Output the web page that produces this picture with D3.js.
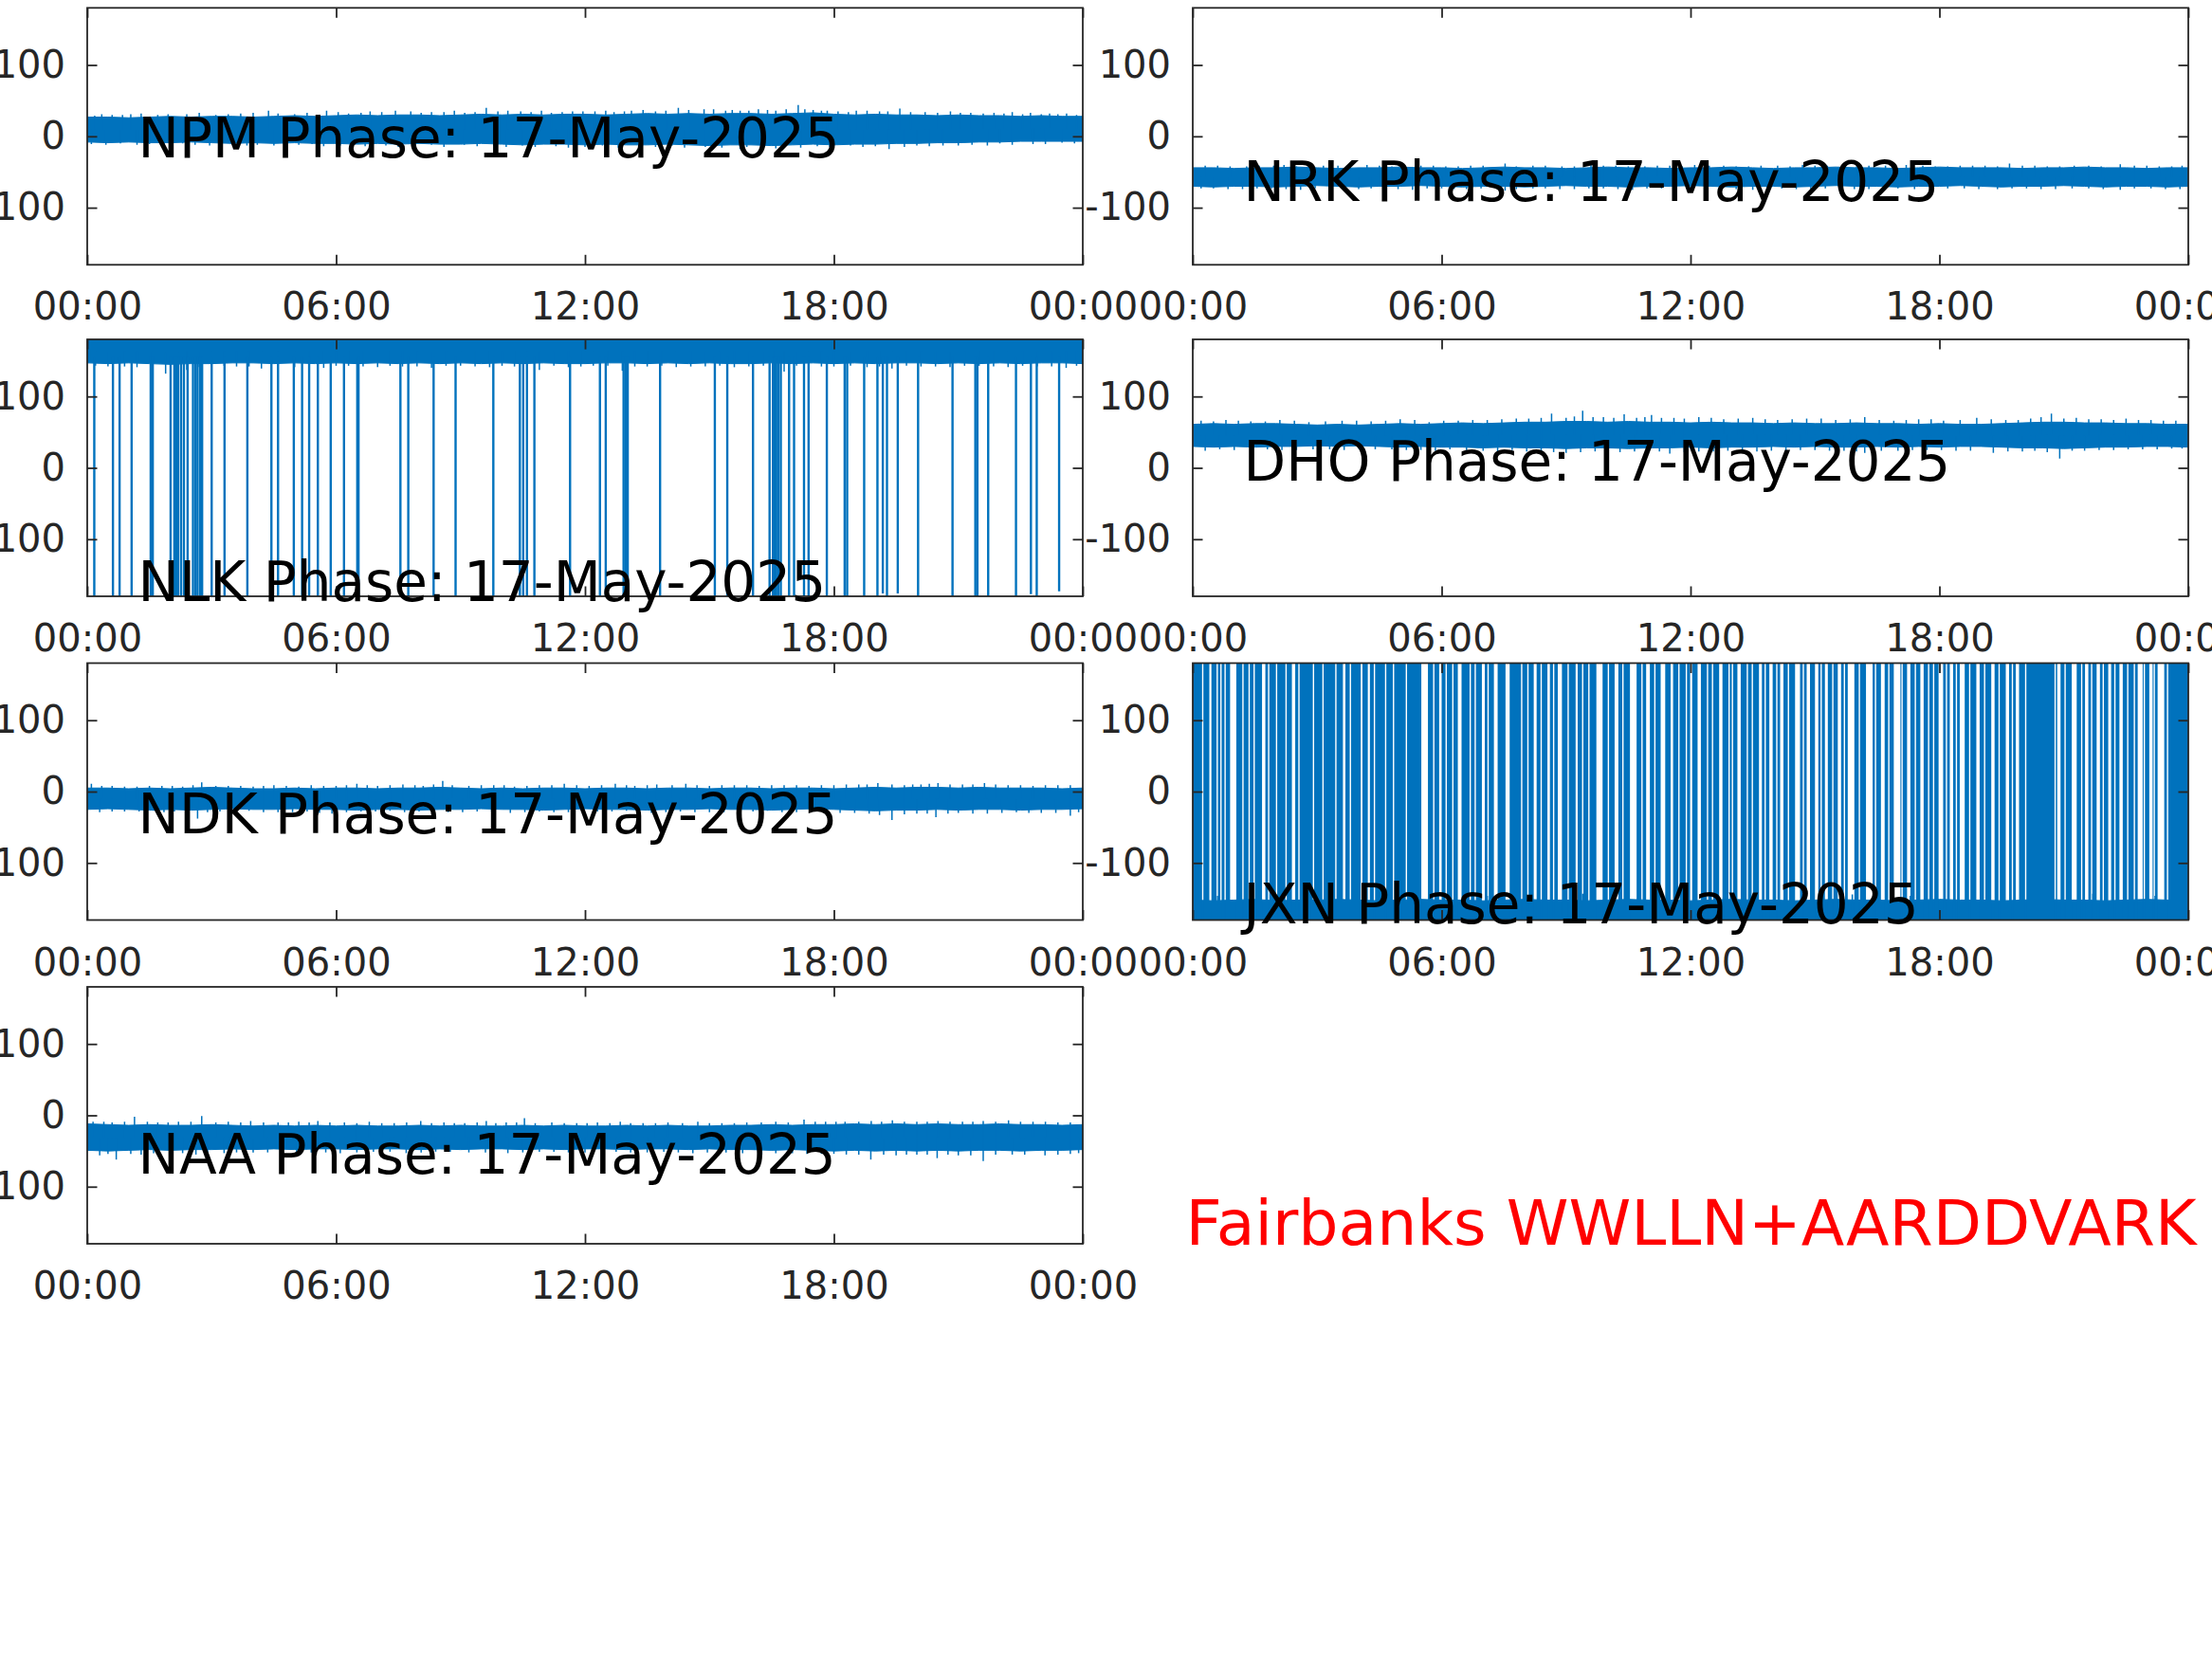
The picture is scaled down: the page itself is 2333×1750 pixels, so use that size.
<!DOCTYPE html>
<html><head><meta charset="utf-8">
<script src="https://cdn.jsdelivr.net/npm/d3@7"></script>
<style>body{margin:0;background:#fff}svg{display:block}</style>
</head><body><svg id="c" width="2333" height="1750"></svg>
<script>
// ---------------- DATA ----------------
const dateLabel = "17-May-2025";
const xTickHours = [0, 6, 12, 18, 24];
const xTickLabels = ["00:00", "06:00", "12:00", "18:00", "00:00"];
const yTickValues = [-100, 0, 100];
const stations = ["NPM", "NRK", "NLK", "DHO", "NDK", "JXN", "NAA"];
const footerText = "Fairbanks WWLLN+AARDDVARK";

// dense core of the phase trace (deg), every 30 min from 00:00 to 24:00 (49 samples)
const npmHi = [27,27,26,27,28,27,28,28,27,28,29,28,29,30,29,30,30,29,30,31,30,31,30,31,31,30,31,32,31,32,31,32,32,31,32,33,31,30,31,30,30,29,30,29,29,28,29,28,28];
const npmLo = [-8,-9,-8,-9,-9,-8,-9,-10,-9,-10,-9,-10,-10,-11,-10,-11,-10,-11,-11,-10,-11,-12,-11,-11,-12,-11,-12,-12,-11,-12,-13,-12,-12,-13,-12,-11,-12,-11,-11,-10,-10,-9,-9,-8,-8,-7,-7,-7,-7];
const nrkHi = [-44,-44,-45,-44,-44,-43,-44,-45,-44,-44,-43,-44,-44,-45,-44,-43,-44,-44,-45,-44,-43,-44,-44,-45,-44,-44,-43,-44,-45,-44,-44,-43,-44,-44,-45,-44,-43,-44,-44,-44,-45,-44,-44,-43,-44,-44,-45,-44,-44];
const nrkLo = [-70,-71,-70,-70,-71,-70,-69,-70,-71,-70,-70,-69,-70,-71,-70,-70,-71,-70,-69,-70,-70,-71,-70,-70,-69,-70,-71,-70,-70,-71,-70,-69,-70,-70,-71,-70,-70,-69,-70,-71,-70,-70,-69,-70,-71,-70,-70,-71,-70];
const nlkHi = [180,180,180,180,180,180,180,180,180,180,180,180,180,180,180,180,180,180,180,180,180,180,180,180,180,180,180,180,180,180,180,180,180,180,180,180,180,180,180,180,180,180,180,180,180,180,180,180,180];
const nlkLo = [147,146,147,146,145,146,146,147,147,146,147,146,147,146,147,146,147,146,147,146,147,146,147,146,146,147,147,146,147,146,147,146,146,147,146,147,146,147,146,147,147,146,147,146,147,146,147,147,146];
const dhoHi = [61,62,61,62,62,61,60,61,60,61,62,61,62,63,62,63,64,64,65,65,64,65,64,64,63,64,63,63,62,63,62,62,63,62,62,61,62,61,61,62,63,64,64,63,63,62,62,61,61];
const dhoLo = [30,29,30,29,30,30,31,30,31,30,29,30,29,29,28,29,28,28,27,28,28,27,28,28,29,28,29,29,30,29,30,29,29,30,29,30,29,30,30,29,28,28,27,28,29,29,30,30,29];
const ndkHi = [5,5,4,5,4,5,6,5,4,4,5,4,5,5,4,5,5,6,5,4,5,4,5,5,4,5,5,4,5,5,4,5,5,4,5,5,4,5,6,5,6,6,5,6,5,5,5,4,5];
const ndkLo = [-25,-24,-25,-26,-25,-26,-25,-24,-25,-25,-24,-25,-25,-26,-25,-25,-26,-25,-25,-24,-25,-25,-26,-25,-24,-25,-25,-26,-25,-25,-24,-25,-25,-26,-25,-24,-25,-26,-27,-26,-26,-25,-26,-25,-25,-26,-25,-25,-24];
const jxnHi = [-152,-153,-152,-151,-153,-152,-152,-151,-152,-153,-152,-151,-152,-152,-153,-152,-151,-152,-152,-153,-152,-151,-152,-152,-153,-152,-151,-152,-152,-153,-152,-151,-152,-152,-153,-152,-151,-152,-152,-153,-152,-151,-152,-152,-153,-152,-151,-152,-152];
const jxnLo = [-180,-180,-180,-180,-180,-180,-180,-180,-180,-180,-180,-180,-180,-180,-180,-180,-180,-180,-180,-180,-180,-180,-180,-180,-180,-180,-180,-180,-180,-180,-180,-180,-180,-180,-180,-180,-180,-180,-180,-180,-180,-180,-180,-180,-180,-180,-180,-180,-180];
const naaHi = [-12,-13,-14,-13,-14,-14,-13,-14,-15,-14,-15,-14,-15,-14,-15,-15,-14,-15,-14,-15,-15,-14,-15,-14,-15,-15,-14,-15,-14,-15,-15,-14,-14,-13,-14,-13,-13,-12,-13,-12,-13,-12,-13,-13,-12,-13,-13,-14,-13];
const naaLo = [-49,-50,-49,-48,-49,-48,-48,-47,-48,-47,-48,-47,-47,-48,-47,-47,-48,-47,-48,-47,-47,-48,-47,-48,-47,-47,-48,-47,-47,-48,-47,-48,-48,-49,-48,-49,-50,-49,-50,-49,-50,-49,-50,-49,-49,-50,-49,-49,-48];

// isolated excursions beyond the dense core: [hour, phase]
const npmSpikes = [[0.18,29],[0.6,30],[1.05,31],[1.7,30],[2.4,31],[3.1,30],[3.7,32],[4.37,36],[5.0,31],[5.77,36],[6.3,32],[6.82,35],[7.43,36],[8.05,33],[8.6,34],[9.1,33],[9.62,40],[10.14,36],[10.7,34],[11.19,33],[11.7,35],[12.24,35],[12.7,34],[13.12,36],[13.7,35],[14.25,40],[14.87,38],[15.39,36],[15.74,36],[16.18,38],[16.6,36],[17.14,44],[17.5,37],[17.84,36],[18.54,36],[19.1,35],[19.59,39],[20.2,34],[20.81,35],[21.3,33],[21.86,33],[22.3,34],[22.74,33],[23.2,32],[23.61,32],
  [0.35,31],[0.85,30],[1.3,32],[1.95,31],[2.7,33],[3.4,31],[4.0,33],[4.6,32],[5.3,33],[6.05,34],[6.6,33],[7.1,34],[7.8,35],[8.3,34],[8.85,36],[9.35,34],[9.9,35],[10.45,35],[10.95,36],[11.45,34],[11.95,35],[12.5,36],[12.95,35],[13.4,37],[13.95,36],[14.5,37],[15.1,38],[15.55,37],[15.95,36],[16.4,37],[16.85,38],[17.3,38],[17.7,36],[18.1,35],[18.35,34],[18.8,36],[19.3,35],[19.85,34],[20.5,33],[21.05,33],[21.6,32],[22.1,32],[22.55,31],[23.0,31],[23.4,31],[23.85,30],
  [0.1,-11],[0.8,-10],[1.5,-11],[2.3,-10],[3.2,-11],[4.1,-12],[4.8,-10],[5.42,-11],[6.4,-12],[7.2,-13],[8.3,-12],[9.09,-12],[9.8,-13],[10.49,-13],[11.3,-14],[12.42,-13],[13.3,-14],[14.1,-13],[14.9,-15],[15.74,-18],[16.3,-14],[16.79,-16],[17.6,-14],[18.4,-13],[19.33,-18],[20.0,-13],[20.63,-13],[21.33,-12],[22.0,-10],[22.8,-11],[23.5,-9],
  [0.45,-12],[1.2,-12],[1.85,-13],[2.6,-12],[2.95,-13],[3.5,-12],[3.85,-13],[4.5,-13],[5.1,-12],[5.7,-14],[6.1,-13],[6.7,-14],[7.5,-15],[7.9,-14],[8.6,-15],[9.4,-14],[10.1,-15],[10.8,-15],[11.6,-16],[12.0,-15],[12.8,-16],[13.7,-15],[14.4,-16],[15.3,-16],[15.9,-15],[16.6,-17],[17.2,-16],[17.9,-15],[18.7,-15],[19.0,-14],[19.7,-15],[20.3,-14],[21.0,-13],[21.7,-13],[22.3,-12],[23.1,-11],[23.8,-10]];
const nrkSpikes = [[0.3,-41],[0.9,-42],[1.6,-41],[2.2,-40],[2.9,-42],[3.5,-41],[4.2,-40],[4.8,-42],[5.5,-41],[6.1,-42],[6.7,-41],[7.53,-38],[8.2,-41],[8.9,-42],[9.6,-40],[10.2,-41],[10.9,-42],[11.5,-41],[12.1,-40],[12.8,-41],[13.4,-42],[14.1,-41],[14.7,-40],[15.3,-41],[16.0,-42],[16.7,-41],[17.2,-40],[17.9,-42],[18.5,-41],[19.1,-41],[19.69,-38],[20.3,-41],[20.9,-42],[21.6,-41],[22.36,-39],[23.0,-41],[23.6,-42],
  [0.6,-41],[1.3,-42],[1.95,-41],[2.5,-42],[3.15,-41],[3.8,-42],[4.5,-41],[5.1,-42],[5.8,-41],[6.4,-42],[7.0,-41],[7.8,-42],[8.5,-41],[9.2,-42],[9.9,-41],[10.5,-42],[11.2,-41],[11.8,-42],[12.45,-41],[13.1,-42],[13.7,-41],[14.4,-42],[15.0,-41],[15.7,-42],[16.3,-41],[16.95,-42],[17.6,-41],[18.2,-42],[18.8,-41],[19.4,-42],[20.0,-41],[20.6,-42],[21.25,-41],[21.9,-42],[22.7,-41],[23.3,-42],[23.85,-41],
  [0.5,-73],[1.2,-74],[1.9,-73],[2.6,-75],[3.3,-73],[4.0,-74],[4.6,-73],[5.3,-75],[6.0,-73],[6.6,-74],[7.53,-76],[8.5,-73],[9.2,-74],[9.9,-73],[10.6,-75],[11.3,-73],[12.0,-74],[12.7,-73],[13.5,-75],[14.2,-73],[14.9,-74],[15.6,-73],[16.3,-74],[17.0,-73],[17.8,-75],[18.6,-73],[19.4,-74],[20.1,-73],[20.8,-74],[21.6,-73],[22.36,-75],[23.1,-73],[23.8,-74],
  [0.2,-73],[0.85,-74],[1.55,-73],[2.25,-74],[2.95,-73],[3.65,-74],[4.3,-73],[4.95,-74],[5.65,-73],[6.3,-74],[6.95,-73],[7.8,-74],[8.2,-73],[8.85,-74],[9.55,-73],[10.25,-74],[10.95,-73],[11.65,-74],[12.35,-73],[13.1,-74],[13.85,-73],[14.55,-74],[15.25,-73],[15.95,-74],[16.65,-73],[17.4,-74],[18.2,-73],[18.95,-74],[19.75,-73],[20.45,-74],[21.2,-73],[21.95,-74],[22.7,-73],[23.45,-74]];
const nlkSpikes = [[0.5,142],[1.2,141],[1.89,132],[2.4,137],[3.0,141],[3.6,142],[4.2,139],[5.0,141],[5.7,140],[6.3,143],[7.0,141],[7.6,142],[8.3,140],[9.0,143],[9.7,141],[10.3,142],[10.9,137],[11.6,141],[12.2,143],[12.9,136],[13.5,142],[14.2,141],[14.9,142],[15.6,141],[16.3,143],[16.8,135],[17.4,140],[18.0,142],[18.8,141],[19.4,139],[20.1,142],[20.8,141],[21.5,143],[22.2,141],[22.9,142],[23.6,140],
  [0.2,143],[0.9,142],[1.55,143],[2.2,140],[2.7,141],[3.3,143],[3.9,142],[4.6,143],[5.35,142],[6.0,143],[6.65,142],[7.3,143],[7.95,142],[8.65,143],[9.35,142],[10.0,143],[10.6,142],[11.25,143],[11.9,142],[12.55,143],[13.2,142],[13.85,143],[14.55,142],[15.25,143],[15.95,142],[16.55,140],[17.1,143],[17.7,142],[18.4,143],[19.1,142],[19.75,143],[20.45,142],[21.15,143],[21.85,142],[22.55,143],[23.25,142],[23.85,143]];
const dhoSpikes = [[0.2,66],[0.8,67],[1.4,65],[2.1,67],[2.8,64],[3.6,66],[4.3,65],[5.0,68],[5.7,64],[6.4,66],[7.1,67],[7.8,69],[8.65,76],[9.0,70],[9.4,80],[9.9,71],[10.4,75],[10.7,70],[11.06,74],[11.6,70],[12.2,71],[12.8,68],[13.5,70],[14.1,67],[14.8,69],[15.5,67],[16.2,71],[16.9,66],[17.5,68],[18.1,66],[18.9,70],[19.6,67],[20.2,69],[20.7,76],[21.3,70],[21.9,68],[22.5,69],[23.1,67],[23.7,66],
  [0.5,65],[1.1,66],[1.75,65],[2.45,66],[3.2,65],[3.95,66],[4.65,66],[5.35,67],[6.05,66],[6.75,67],[7.45,68],[8.1,69],[8.4,70],[9.2,72],[9.65,71],[10.15,70],[10.9,71],[11.3,70],[11.85,69],[12.5,70],[13.15,69],[13.8,68],[14.45,68],[15.15,69],[15.85,68],[16.55,67],[17.2,67],[17.8,68],[18.5,67],[19.25,68],[19.9,67],[20.45,71],[21.0,69],[21.6,68],[22.2,67],[22.8,67],[23.4,66],
  [0.3,24],[1.0,25],[1.8,26],[2.5,25],[3.3,26],[4.0,27],[4.8,26],[5.5,25],[6.2,26],[7.0,24],[7.7,25],[8.4,22],[9.0,21],[9.7,23],[10.3,22],[11.0,24],[11.5,20],[12.2,23],[12.9,24],[13.6,23],[14.3,24],[15.0,25],[15.7,24],[16.2,21],[17.0,24],[17.7,25],[18.4,24],[19.3,21],[20.0,23],[20.9,13],[21.5,24],[22.2,25],[22.9,26],[23.6,27],
  [0.65,26],[1.4,26],[2.15,25],[2.9,26],[3.65,25],[4.4,26],[5.15,25],[5.85,24],[6.6,25],[7.35,23],[8.05,23],[8.7,22],[9.35,22],[10.0,22],[10.65,23],[11.25,23],[11.85,22],[12.55,23],[13.25,24],[13.95,24],[14.65,25],[15.35,24],[16.0,23],[16.6,24],[17.35,25],[18.05,25],[18.75,24],[19.65,23],[20.3,24],[20.6,22],[21.2,24],[21.85,25],[22.55,26],[23.25,26],[23.85,27]];
const ndkSpikes = [[0.1,11],[0.6,8],[1.2,7],[1.8,8],[2.3,7],[2.76,13],[3.4,8],[4.0,7],[4.5,9],[5.1,7],[5.7,8],[6.5,11],[7.0,8],[7.61,10],[8.1,8],[8.57,15],[9.2,8],[9.8,9],[10.3,7],[10.9,9],[11.5,11],[12.1,8],[12.73,11],[13.2,8],[13.73,10],[14.43,11],[15.0,8],[15.6,9],[16.2,8],[16.8,9],[17.4,8],[18.0,9],[18.6,10],[19.06,12],[19.7,9],[20.1,10],[20.51,12],[21.1,10],[21.63,12],[22.2,9],[22.8,8],[23.4,9],
  [0.35,8],[0.9,7],[1.5,8],[2.05,8],[2.55,9],[3.1,8],[3.7,8],[4.25,8],[4.8,8],[5.4,9],[6.0,8],[6.25,9],[6.75,9],[7.3,9],[7.9,9],[8.35,10],[8.8,9],[9.5,9],[10.05,9],[10.6,8],[11.2,9],[11.8,9],[12.4,9],[13.0,9],[13.5,9],[14.1,9],[14.7,9],[15.3,9],[15.9,9],[16.5,9],[17.1,9],[17.7,9],[18.3,10],[18.8,10],[19.4,10],[19.9,10],[20.3,11],[20.8,10],[21.35,10],[21.9,10],[22.5,9],[23.1,9],[23.7,9],
  [0.3,-29],[0.9,-28],[1.6,-27],[2.1,-28],[2.66,-38],[3.2,-28],[3.9,-27],[4.6,-29],[5.3,-28],[5.9,-31],[6.6,-28],[7.3,-27],[8.0,-28],[8.7,-29],[9.4,-28],[10.2,-30],[10.9,-28],[11.6,-29],[12.3,-28],[13.0,-27],[13.6,-30],[14.3,-28],[15.0,-29],[15.7,-28],[16.4,-27],[17.1,-29],[17.8,-28],[18.5,-30],[19.4,-40],[20.0,-31],[20.46,-36],[21.0,-30],[21.7,-31],[22.4,-29],[23.0,-30],[23.7,-34],
  [0.6,-28],[1.25,-28],[1.85,-29],[2.4,-30],[2.9,-29],[3.55,-28],[4.25,-29],[4.95,-29],[5.6,-30],[6.25,-29],[6.95,-28],[7.65,-29],[8.35,-29],[9.05,-29],[9.75,-28],[10.55,-29],[11.25,-29],[11.95,-29],[12.65,-28],[13.3,-29],[13.95,-29],[14.65,-29],[15.35,-29],[16.05,-28],[16.75,-29],[17.45,-29],[18.15,-30],[18.85,-31],[19.1,-33],[19.7,-32],[20.25,-31],[20.75,-31],[21.35,-31],[22.05,-30],[22.7,-30],[23.35,-30],[23.9,-29]];
const jxnSpikes = [[0.6,-146],[1.9,-144],[3.3,-147],[5.2,-145],[7.1,-146],[9.4,-143],[11.8,-146],[13.6,-145],[15.9,-144],[17.3,-146],[18.8,-142],[20.2,-145],[21.7,-143],[23.2,-146]];
const naaSpikes = [[0.14,-9],[0.6,-10],[1.14,-2],[1.7,-10],[2.2,-9],[2.76,-1],[3.4,-9],[3.94,-8],[4.6,-10],[5.1,-9],[5.56,-8],[6.2,-10],[6.8,-9],[7.4,-11],[8.04,-8],[8.6,-10],[9.1,-11],[9.62,-8],[10.1,-10],[10.54,-4],[11.2,-10],[11.8,-11],[12.3,-10],[12.85,-9],[13.4,-11],[14.0,-10],[14.72,-9],[15.3,-11],[15.9,-10],[16.6,-9],[17.28,-6],[17.8,-9],[18.27,-9],[18.9,-8],[19.41,-7],[20.0,-9],[20.51,-8],[21.1,-9],[21.6,-8],[22.21,-7],[22.8,-9],[23.4,-10],
  [0.4,-9],[0.9,-9],[1.45,-9],[1.95,-10],[2.5,-9],[3.1,-10],[3.7,-10],[4.25,-10],[4.85,-10],[5.35,-10],[5.85,-10],[6.5,-11],[7.1,-11],[7.7,-10],[8.3,-11],[8.85,-11],[9.4,-10],[9.85,-11],[10.35,-10],[10.8,-11],[11.5,-11],[12.05,-11],[12.6,-11],[13.1,-11],[13.7,-11],[14.35,-11],[15.0,-11],[15.6,-11],[16.25,-10],[16.9,-10],[17.55,-9],[18.05,-9],[18.6,-9],[19.15,-9],[19.7,-9],[20.25,-9],[20.8,-9],[21.35,-9],[21.9,-9],[22.5,-9],[23.1,-9],[23.7,-10],
  [0.3,-56],[0.7,-62],[1.3,-55],[2.0,-54],[2.62,-55],[3.3,-53],[4.0,-52],[4.7,-54],[5.4,-52],[6.1,-53],[6.9,-51],[7.69,-53],[8.4,-51],[9.2,-52],[10.14,-53],[10.9,-51],[11.6,-52],[12.4,-51],[13.1,-52],[13.9,-51],[14.6,-53],[15.4,-52],[16.26,-55],[17.0,-53],[17.7,-54],[18.3,-55],[18.89,-62],[19.5,-56],[20.0,-55],[20.49,-60],[21.0,-56],[21.6,-64],[22.3,-55],[23.09,-56],[23.7,-54],
  [0.5,-54],[1.05,-54],[1.6,-53],[2.3,-53],[2.9,-53],[3.6,-52],[4.35,-52],[5.05,-52],[5.75,-52],[6.5,-52],[7.3,-51],[8.05,-52],[8.75,-51],[9.6,-52],[10.5,-52],[11.25,-51],[12.0,-52],[12.75,-51],[13.5,-52],[14.25,-52],[14.95,-52],[15.8,-53],[16.6,-53],[17.35,-54],[18.0,-54],[18.6,-55],[19.2,-55],[19.75,-55],[20.25,-55],[20.75,-55],[21.3,-56],[21.9,-55],[22.6,-55],[23.4,-55],[23.9,-53]];

// NLK phase wraps through -180: [hour, lowest phase reached]
const nlkWraps = [[0.17,-180],[0.62,-180],[0.78,-180],[1.07,-180],[1.53,-180],[1.58,-180],[2.01,-180],[2.10,-180],[2.15,-180],[2.19,-180],[2.26,-180],[2.33,-180],[2.42,-180],[2.55,-180],[2.61,-180],[2.66,-180],[2.72,-180],[2.77,-180],[3.00,-180],[3.31,-180],[3.86,-180],[4.44,-180],[4.60,-180],[4.98,-180],[5.18,-180],[5.35,-180],[5.56,-180],[5.87,-180],[6.19,-180],[6.51,-180],[6.54,-180],[7.55,-180],[7.74,-180],[8.35,-180],[8.88,-180],[9.79,-180],[10.43,-180],[10.51,-180],[10.60,-180],[10.78,-180],[11.64,-180],[12.36,-180],[12.50,-180],[12.93,-180],[12.98,-180],[13.03,-180],[13.81,-180],[15.13,-180],[15.43,-180],[16.05,-180],[16.45,-180],[16.53,-180],[16.57,-180],[16.61,-180],[16.66,-180],[16.72,-180],[16.92,-180],[17.04,-180],[17.28,-180],[17.39,-180],[17.83,-180],[18.26,-180],[18.32,-180],[18.73,-180],[19.05,-180],[19.18,-176],[19.28,-180],[19.54,-176],[20.03,-180],[20.86,-180],[21.41,-180],[21.46,-180],[21.72,-180],[22.39,-180],[22.75,-177],[22.89,-180],[23.43,-173]];

// JXN: spans [start,end] (hours) with no +/-180 wrapping, and single brief pauses (hours)
const jxnQuiet = [[0.40,0.45],[0.90,1.05],[1.67,1.75],[2.39,2.47],[3.62,3.68],[4.05,4.09],[4.22,4.27],[5.51,5.67],[5.94,6.00],[6.39,6.48],[6.97,7.04],[7.26,7.35],[7.54,7.64],[8.22,8.29],[8.55,8.61],[8.80,8.90],[9.23,9.28],[9.73,9.88],[10.17,10.26],[10.54,10.70],[10.93,11.02],[11.28,11.39],[11.52,11.58],[11.99,12.04],[12.17,12.25],[12.69,12.77],[13.13,13.21],[13.65,13.72],[13.90,13.98],[14.16,14.24],[14.52,14.64],[14.80,14.88],[15.00,15.08],[15.24,15.31],[15.55,15.63],[15.79,15.95],[16.23,16.39],[16.59,16.68],[16.90,17.06],[17.22,17.30],[17.54,17.62],[17.98,18.09],[18.25,18.33],[18.49,18.61],[18.89,18.97],[19.25,19.33],[19.60,19.68],[19.84,19.92],[20.84,20.92],[21.19,21.31],[21.51,21.59],[21.79,21.87],[22.07,22.14],[22.34,22.42],[22.78,22.90],[23.06,23.14],[23.26,23.42]];
const jxnPauses = [0.24,0.59,0.68,0.78,1.21,1.36,1.48,1.83,2.02,2.25,2.56,2.91,3.14,3.45,3.80,4.38,4.65,4.84,5.15,5.81,6.11,6.27,6.69,6.81,7.12,7.93,8.08,8.40,8.70,9.05,9.40,9.55,10.02,10.37,10.83,11.14,11.72,11.90,12.41,12.53,12.93,13.01,13.37,13.49,13.80,14.08,14.36,14.72,15.15,15.43,15.71,16.07,16.46,16.78,17.10,17.42,17.74,17.86,18.17,18.41,18.73,19.09,19.44,19.76,20.08,20.79,21.03,21.43,21.67,21.95,22.23,22.54,22.70,22.94,23.18,23.50];

// ---------------- LAYOUT ----------------
const BLUE = "#0072BD", AXC = "#262626";
const W = 1050, H = 271;
const colX = [92, 1258];
const rowY = [8.3, 358, 699.5, 1041];
const sampleHours = d3.range(0, 24.001, 0.5);
const labelHour = 1.225;
const pauseHalfWidth = 0.016;

const panels = [
  {name: stations[0], col: 0, row: 0, hi: npmHi, lo: npmLo, spikes: npmSpikes, labelY: -29},
  {name: stations[1], col: 1, row: 0, hi: nrkHi, lo: nrkLo, spikes: nrkSpikes, labelY: -91},
  {name: stations[2], col: 0, row: 1, hi: nlkHi, lo: nlkLo, spikes: nlkSpikes, labelY: -186, wraps: nlkWraps},
  {name: stations[3], col: 1, row: 1, hi: dhoHi, lo: dhoLo, spikes: dhoSpikes, labelY: -18},
  {name: stations[4], col: 0, row: 2, hi: ndkHi, lo: ndkLo, spikes: ndkSpikes, labelY: -59},
  {name: stations[5], col: 1, row: 2, hi: jxnHi, lo: jxnLo, spikes: jxnSpikes, labelY: -184, quiet: jxnQuiet, pauses: jxnPauses},
  {name: stations[6], col: 0, row: 3, hi: naaHi, lo: naaLo, spikes: naaSpikes, labelY: -82}
];

const svg = d3.select("#c");
svg.append("rect").attr("width", 2333).attr("height", 1750).attr("fill", "#fff");

panels.forEach((p, i) => {
  const g = svg.append("g").attr("transform", `translate(${colX[p.col]},${rowY[p.row]})`);
  const x = d3.scaleLinear().domain([0, 24]).range([0, W]);
  const y = d3.scaleLinear().domain([-180, 180]).range([H, 0]);
  const cid = "clip" + i;
  g.append("clipPath").attr("id", cid).append("rect").attr("width", W).attr("height", H);
  const plot = g.append("g").attr("clip-path", `url(#${cid})`);

  const rows = sampleHours.map((t, j) => ({t, lo: p.lo[j], hi: p.hi[j]}));
  const area = d3.area().x(d => x(d.t)).y0(d => y(d.lo)).y1(d => y(d.hi));
  plot.append("path").datum(rows).attr("d", area)
    .attr("fill", BLUE).attr("stroke", BLUE).attr("stroke-width", 1);

  const mid = t => {
    const j = Math.max(0, Math.min(sampleHours.length - 1, Math.round(t / 0.5)));
    return (p.lo[j] + p.hi[j]) / 2;
  };
  plot.selectAll("line.spike").data(p.spikes).join("line").attr("class", "spike")
    .attr("x1", d => x(d[0])).attr("x2", d => x(d[0]))
    .attr("y1", d => y(mid(d[0]))).attr("y2", d => y(d[1]))
    .attr("stroke", BLUE).attr("stroke-width", 1.5);

  if (p.wraps) {
    plot.selectAll("line.wrap").data(p.wraps).join("line").attr("class", "wrap")
      .attr("x1", d => x(d[0])).attr("x2", d => x(d[0]))
      .attr("y1", y(155)).attr("y2", d => y(d[1]))
      .attr("stroke", BLUE).attr("stroke-width", 2.4);
  }
  if (p.quiet) {
    const q = p.quiet.concat(p.pauses.map(t => [t - pauseHalfWidth, t + pauseHalfWidth]))
      .sort((a, b) => a[0] - b[0]);
    const dense = [];
    let prev = 0;
    q.forEach(([a, b]) => { if (a > prev) dense.push([prev, a]); prev = Math.max(prev, b); });
    if (prev < 24) dense.push([prev, 24]);
    plot.selectAll("rect.dense").data(dense).join("rect").attr("class", "dense")
      .attr("x", d => x(d[0])).attr("width", d => x(d[1]) - x(d[0]))
      .attr("y", y(180)).attr("height", y(-180) - y(180)).attr("fill", BLUE);
  }

  const ax = g.append("g");
  ax.append("g").attr("transform", `translate(0,${H})`)
    .call(d3.axisBottom(x).tickValues(xTickHours).tickSize(-10.5).tickPadding(29.6)
      .tickFormat((d, k) => xTickLabels[k]));
  ax.append("g").call(d3.axisTop(x).tickValues(xTickHours).tickSize(-10.5).tickFormat(""));
  ax.append("g").call(d3.axisLeft(y).tickValues(yTickValues).tickSize(-10.5).tickPadding(23)
      .tickFormat(d => String(d)));
  ax.append("g").attr("transform", `translate(${W},0)`)
    .call(d3.axisRight(y).tickValues(yTickValues).tickSize(-10.5).tickFormat(""));
  ax.selectAll(".domain").remove();
  ax.selectAll("line").attr("stroke", AXC).attr("stroke-width", 1.8);
  ax.selectAll("text").attr("fill", AXC).attr("font-size", 40).attr("font-family", "DejaVu Sans");
  g.append("rect").attr("width", W).attr("height", H).attr("fill", "none")
    .attr("stroke", AXC).attr("stroke-width", 1.8);

  g.append("text").attr("x", x(labelHour)).attr("y", y(p.labelY))
    .attr("font-family", "DejaVu Sans").attr("font-size", 58).attr("fill", "#000")
    .text(`${p.name} Phase: ${dateLabel}`);
});

svg.append("text").attr("x", 1250.6).attr("y", 1312.7)
  .attr("font-family", "DejaVu Sans").attr("font-size", 66.5).attr("fill", "#FF0000")
  .text(footerText);
</script>
</body></html>
